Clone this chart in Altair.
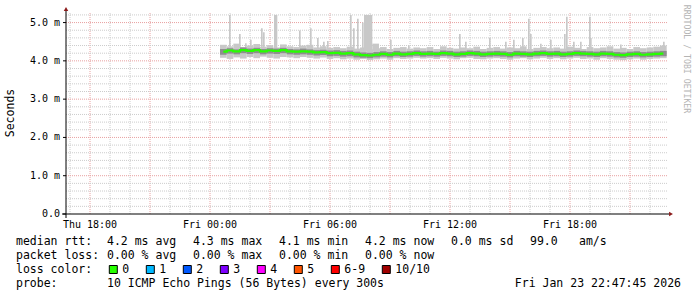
import altair as alt
import pandas as pd

# ---------------- data ----------------
X_START = "2026-01-22T16:48:00Z"
X_END = "2026-01-23T22:54:00Z"
STEP_START = "2026-01-23T00:30:00Z"
STEP_MINUTES = 20

median_ms = [4.24, 4.27, 4.25, 4.28, 4.26, 4.28, 4.25, 4.27, 4.26, 4.28,
             4.25, 4.24, 4.25, 4.24, 4.22, 4.23, 4.20, 4.21, 4.19, 4.20,
             4.17, 4.15, 4.14, 4.16, 4.18, 4.16, 4.19, 4.17, 4.18, 4.20,
             4.18, 4.19, 4.18, 4.20, 4.19, 4.17, 4.18, 4.20, 4.19, 4.17,
             4.18, 4.19, 4.18, 4.16, 4.19, 4.18, 4.17, 4.19, 4.20, 4.18,
             4.19, 4.17, 4.18, 4.20, 4.19, 4.18, 4.17, 4.19, 4.18, 4.16,
             4.15, 4.17, 4.18, 4.16, 4.17, 4.18, 4.19]
smoke_hi = [4.42, 4.38, 4.45, 4.36, 4.40, 4.44, 4.37, 4.41, 4.35, 4.43,
            4.38, 4.36, 4.40, 4.42, 4.35, 4.38, 4.34, 4.36, 4.33, 4.37,
            4.32, 4.35, 4.30, 4.33, 4.36, 4.31, 4.34, 4.36, 4.32, 4.35,
            4.33, 4.36, 4.31, 4.38, 4.34, 4.32, 4.35, 4.33, 4.37, 4.31,
            4.34, 4.36, 4.32, 4.35, 4.33, 4.38, 4.31, 4.34, 4.36, 4.33,
            4.35, 4.32, 4.37, 4.34, 4.31, 4.36, 4.33, 4.35, 4.38, 4.32,
            4.34, 4.31, 4.36, 4.33, 4.35, 4.37, 4.40]
smoke_lo = [4.08, 4.05, 4.09, 4.06, 4.10, 4.07, 4.11, 4.08, 4.06, 4.10,
            4.09, 4.07, 4.10, 4.08, 4.06, 4.09, 4.05, 4.07, 4.04, 4.06,
            4.03, 4.05, 4.02, 4.04, 4.06, 4.03, 4.07, 4.05, 4.06, 4.08,
            4.06, 4.07, 4.05, 4.08, 4.06, 4.04, 4.07, 4.08, 4.05, 4.04,
            4.06, 4.07, 4.05, 4.03, 4.06, 4.07, 4.04, 4.06, 4.08, 4.05,
            4.07, 4.04, 4.06, 4.08, 4.05, 4.06, 4.03, 4.07, 4.05, 4.03,
            4.02, 4.04, 4.06, 4.03, 4.05, 4.06, 4.07]
core_hi = [4.31, 4.33, 4.30, 4.35, 4.32, 4.34, 4.31, 4.33, 4.32, 4.34,
           4.31, 4.30, 4.32, 4.30, 4.28, 4.29, 4.27, 4.28, 4.26, 4.27,
           4.24, 4.22, 4.21, 4.23, 4.25, 4.23, 4.26, 4.24, 4.25, 4.27,
           4.25, 4.26, 4.24, 4.27, 4.26, 4.24, 4.25, 4.27, 4.26, 4.24,
           4.25, 4.26, 4.25, 4.23, 4.26, 4.25, 4.24, 4.26, 4.27, 4.25,
           4.26, 4.24, 4.25, 4.27, 4.26, 4.25, 4.24, 4.26, 4.25, 4.23,
           4.22, 4.24, 4.25, 4.23, 4.24, 4.25, 4.26]
core_lo = [4.16, 4.19, 4.17, 4.20, 4.18, 4.20, 4.17, 4.19, 4.18, 4.20,
           4.17, 4.16, 4.17, 4.16, 4.14, 4.15, 4.12, 4.13, 4.11, 4.12,
           4.09, 4.08, 4.07, 4.09, 4.11, 4.09, 4.12, 4.10, 4.11, 4.13,
           4.11, 4.12, 4.11, 4.13, 4.12, 4.10, 4.11, 4.13, 4.12, 4.10,
           4.11, 4.12, 4.11, 4.09, 4.12, 4.11, 4.10, 4.12, 4.13, 4.11,
           4.12, 4.10, 4.11, 4.13, 4.12, 4.11, 4.10, 4.12, 4.11, 4.09,
           4.08, 4.10, 4.11, 4.09, 4.10, 4.11, 4.12]

# single-ping outliers (Fri): start time, duration (min), top value (ms)
spike_start = ["00:57", "01:27", "01:45", "02:00", "02:33", "02:39", "03:12",
               "04:27", "05:00", "05:21", "05:39", "05:51", "07:00", "07:09",
               "07:21", "07:36", "07:42", "08:07", "09:00", "09:54", "12:27",
               "12:45", "13:57", "14:45", "15:09", "15:36", "15:54", "16:00",
               "16:30", "17:00", "17:42", "17:48", "18:09", "18:30", "18:57",
               "19:00", "20:30", "22:39"]
spike_minutes = [5, 5, 5, 5, 5, 5, 10, 5, 5, 5, 5, 5, 5, 5, 5, 5, 25, 20, 5, 5,
                 5, 5, 5, 5, 5, 5, 5, 5, 5, 5, 5, 5, 5, 5, 5, 5, 5, 5]
spike_top = [5.20, 4.70, 4.46, 4.55, 4.85, 4.75, 5.20, 4.79, 4.85, 4.60, 4.50,
             4.52, 5.20, 4.85, 5.10, 5.00, 5.20, 4.45, 4.55, 4.40, 4.70, 4.50,
             4.60, 4.50, 4.55, 4.60, 5.10, 4.70, 4.45, 4.55, 4.70, 5.15, 4.50,
             4.50, 5.15, 4.60, 4.43, 4.50]

x_label_times = ["2026-01-22T18:00:00Z", "2026-01-23T00:00:00Z",
                 "2026-01-23T06:00:00Z", "2026-01-23T12:00:00Z",
                 "2026-01-23T18:00:00Z"]
x_label_text = ["Thu 18:00", "Fri 00:00", "Fri 06:00", "Fri 12:00", "Fri 18:00"]
y_major = [0, 1, 2, 3, 4, 5]
y_label_text = ["0.0", "1.0 m", "2.0 m", "3.0 m", "4.0 m", "5.0 m"]
y_minor = [0.2, 0.4, 0.6, 0.8, 1.2, 1.4, 1.6, 1.8, 2.2, 2.4, 2.6, 2.8,
           3.2, 3.4, 3.6, 3.8, 4.2, 4.4, 4.6, 4.8, 5.2]

legend_rows = [
    ["median rtt:", "4.2 ms avg", "4.3 ms max", "4.1 ms min", "4.2 ms now",
     "0.0 ms sd", "99.0", "am/s"],
    ["packet loss:", "0.00 % avg", "0.00 % max", "0.00 % min", "0.00 % now"],
]
loss_labels = ["0", "1", "2", "3", "4", "5", "6-9", "10/10"]
loss_colors = ["#26ff00", "#00b8ff", "#0059ff", "#7e00ff", "#ff00ff",
               "#ff5500", "#ff0000", "#a00000"]
probe_text = "10 ICMP Echo Pings (56 Bytes) every 300s"
stamp_text = "Fri Jan 23 22:47:45 2026"
watermark = "RRDTOOL / TOBI OETIKER"

# ---------------- layout ----------------
W, H = 602, 201
OX, OY = 66, 13
MONO = "DejaVu Sans Mono"
MIN = 60 * 1000


def ms(s):
    return int(pd.Timestamp(s).value // 10**6)


t_start = ms(STEP_START)
n = len(median_ms)
steps = pd.DataFrame({
    "t0": [t_start + i * STEP_MINUTES * MIN for i in range(n)],
    "t1": [t_start + (i + 1) * STEP_MINUTES * MIN for i in range(n)],
    "tc": [t_start + (i + 0.5) * STEP_MINUTES * MIN for i in range(n)],
    "med": median_ms, "slo": smoke_lo, "shi": smoke_hi,
    "clo": core_lo, "chi": core_hi,
})
spk0 = [ms("2026-01-23T" + s + ":00Z") for s in spike_start]
spikes = pd.DataFrame({
    "t0": spk0,
    "t1": [a + d * MIN for a, d in zip(spk0, spike_minutes)],
    "top": spike_top,
})

hours = pd.date_range("2026-01-22T17:00:00Z", "2026-01-23T22:00:00Z", freq="h")
vminor = pd.DataFrame({"t": [int(h.value // 10**6) for h in hours if h.hour % 3]})
vmajor = pd.DataFrame({"t": [int(h.value // 10**6) for h in hours if h.hour % 3 == 0]})

xs = alt.Scale(type="utc", domain=[ms(X_START), ms(X_END)])
ys = alt.Scale(domain=[0, 5.25], nice=False, zero=False)
one = pd.DataFrame({"k": [0]})

grid_minor_v = alt.Chart(vminor).mark_rule(color="#cccccc", strokeDash=[1, 1]).encode(
    x=alt.X("t:T", scale=xs, axis=None), y=alt.value(0), y2=alt.value(H))
grid_major_v = alt.Chart(vmajor).mark_rule(color="#e8a0a0", strokeDash=[1, 1]).encode(
    x=alt.X("t:T", scale=xs, axis=None), y=alt.value(0), y2=alt.value(H))
grid_minor_h = alt.Chart(pd.DataFrame({"v": y_minor})).mark_rule(
    color="#cccccc", strokeDash=[1, 1]).encode(
    y=alt.Y("v:Q", scale=ys, axis=None), x=alt.value(0), x2=alt.value(W))
grid_major_h = alt.Chart(pd.DataFrame({"v": y_major[1:]})).mark_rule(
    color="#e8a0a0", strokeDash=[1, 1]).encode(
    y=alt.Y("v:Q", scale=ys, axis=None), x=alt.value(0), x2=alt.value(W))

smoke = alt.Chart(steps).mark_rect(color="#c8c8c8").encode(
    x=alt.X("t0:T", scale=xs, axis=None), x2="t1:T",
    y=alt.Y("slo:Q", scale=ys, axis=None), y2="shi:Q")
spike_marks = alt.Chart(spikes).mark_rect(color="#c8c8c8").encode(
    x=alt.X("t0:T", scale=xs, axis=None), x2="t1:T",
    y=alt.Y("top:Q", scale=ys, axis=None), y2=alt.datum(4.25))
core = alt.Chart(steps).mark_rect(color="#8e8e8e").encode(
    x=alt.X("t0:T", scale=xs, axis=None), x2="t1:T",
    y=alt.Y("clo:Q", scale=ys, axis=None), y2="chi:Q")
median_line = alt.Chart(steps).mark_line(
    color="#26ff00", strokeWidth=2.2, interpolate="step").encode(
    x=alt.X("tc:T", scale=xs, axis=None), y=alt.Y("med:Q", scale=ys, axis=None))

# axis lines, ticks, arrows
x_line = alt.Chart(one).mark_rule(color="#000000").encode(
    x=alt.value(-4), x2=alt.value(W + 1), y=alt.value(H))
y_line = alt.Chart(one).mark_rule(color="#000000").encode(
    x=alt.value(0), y=alt.value(-2), y2=alt.value(H + 4))
y_ticks = alt.Chart(pd.DataFrame({"v": y_major})).mark_rule(color="#000000").encode(
    y=alt.Y("v:Q", scale=ys, axis=None), x=alt.value(-3), x2=alt.value(0))
arrow_up = alt.Chart(one).mark_point(shape="triangle-up", filled=True,
                                     color="#8b1a1a", size=20, opacity=1).encode(
    x=alt.value(0), y=alt.value(-4))
arrow_right = alt.Chart(one).mark_point(shape="triangle-right", filled=True,
                                        color="#8b1a1a", size=20, opacity=1).encode(
    x=alt.value(W + 3), y=alt.value(H))

# axis labels through the scales
x_labels = alt.Chart(pd.DataFrame({"t": [ms(s) for s in x_label_times],
                                   "lab": x_label_text})).mark_text(
    font=MONO, fontSize=10, color="#000000", align="center",
    baseline="alphabetic").encode(
    x=alt.X("t:T", scale=xs, axis=None), y=alt.value(H + 14), text="lab:N")
y_labels = alt.Chart(pd.DataFrame({"v": y_major, "lab": y_label_text})).mark_text(
    font=MONO, fontSize=10, color="#000000", align="right",
    baseline="middle").encode(
    y=alt.Y("v:Q", scale=ys, axis=None), x=alt.value(-6), text="lab:N")

# texts
y_title = alt.Chart(one).mark_text(text="Seconds", font=MONO, fontSize=11.5,
                                   angle=270, color="#000000", align="center",
                                   baseline="middle").encode(
    x=alt.value(11 - OX), y=alt.value(113 - OY))
wm = alt.Chart(one).mark_text(text=watermark, font=MONO, fontSize=8.2, angle=90,
                              color="#b4b4b4", align="center",
                              baseline="middle").encode(
    x=alt.value(686 - OX), y=alt.value(59 - OY))

seg_x = [16, 107, 193, 279, 365, 451, 530, 579]
base_y = [245, 259, 273, 287]
rows = []
for r, row in enumerate(legend_rows):
    for j, txt in enumerate(row):
        rows.append({"txt": txt, "px": seg_x[j] - OX, "py": base_y[r] - OY})
rows.append({"txt": "loss color:", "px": 16 - OX, "py": base_y[2] - OY})
rows.append({"txt": "probe:", "px": 16 - OX, "py": base_y[3] - OY})
rows.append({"txt": probe_text, "px": 107 - OX, "py": base_y[3] - OY})

sq = []
xpos = 109.3
for lab, col in zip(loss_labels, loss_colors):
    sq.append({"x0": xpos - OX, "x1": xpos + 8 - OX, "y0": 265.5 - OY,
               "y1": 273.5 - OY, "c": col})
    rows.append({"txt": lab, "px": xpos + 13 - OX, "py": base_y[2] - OY})
    xpos += 30 + 7 * len(lab)

legend_text = alt.Chart(pd.DataFrame(rows)).mark_text(
    font=MONO, fontSize=11.5, color="#000000", align="left",
    baseline="alphabetic").encode(
    x=alt.X("px:Q", scale=None), y=alt.Y("py:Q", scale=None), text="txt:N")
stamp = alt.Chart(one).mark_text(text=stamp_text, font=MONO, fontSize=11.5,
                                 color="#000000", align="right",
                                 baseline="alphabetic").encode(
    x=alt.value(681 - OX), y=alt.value(base_y[3] - OY))
squares = alt.Chart(pd.DataFrame(sq)).mark_rect(stroke="#000000", strokeWidth=1).encode(
    x=alt.X("x0:Q", scale=None), x2="x1:Q",
    y=alt.Y("y0:Q", scale=None), y2="y1:Q",
    fill=alt.Fill("c:N", scale=None))

chart = alt.layer(
    grid_minor_v, grid_major_v, grid_minor_h, grid_major_h,
    smoke, spike_marks, core, median_line,
    x_line, y_line, y_ticks, arrow_up, arrow_right,
    x_labels, y_labels,
    y_title, wm, legend_text, stamp, squares,
).properties(
    width=W, height=H,
    autosize=alt.AutoSizeParams(type="none"),
    padding={"left": OX, "top": OY, "right": 697 - OX - W, "bottom": 297 - OY - H},
    background="#ffffff",
).configure_view(stroke=None)

chart.save("out.html", embed_options={"renderer": "svg", "actions": False})
